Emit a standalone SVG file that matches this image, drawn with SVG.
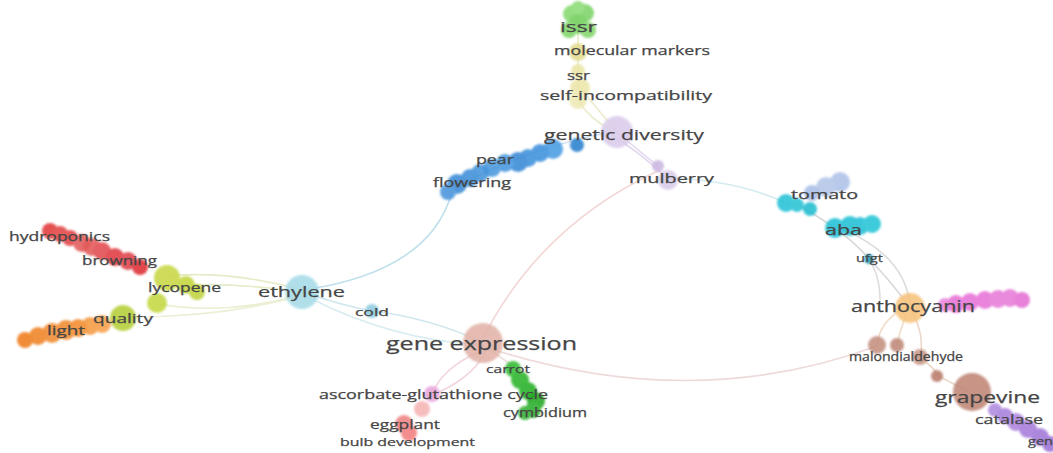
<svg xmlns="http://www.w3.org/2000/svg" width="1053" height="453" viewBox="0 0 1053 453">
<defs>
<filter id="soft" x="-20%" y="-20%" width="140%" height="140%"><feGaussianBlur stdDeviation="1.3"/></filter>
<style>
.lbl{font-family:"Open Sans","Liberation Sans",sans-serif;fill:#454545;stroke:#454545;stroke-width:0.25;}
.e{fill:none;stroke-width:1.6;stroke-linecap:round;}
.b{opacity:0.88;}
</style>
</defs>
<rect width="1053" height="453" fill="#ffffff"/>
<g id="connectors">
<path class="e" stroke="#bfe0ec" d="M303 290 Q 430 272 452 192"/>
<path class="e" stroke="#cfe8ef" d="M303 292 Q 340 305 372 311 Q 430 318 482 342"/>
<path class="e" stroke="#d9ecf1" d="M306 296 Q 390 340 482 345"/>
<path class="e" stroke="#f3d6d6" d="M482 340 Q 540 225 660 170"/>
<path class="e" stroke="#eedada" d="M482 346 Q 690 415 877 346"/>
<path class="e" stroke="#d4ebef" d="M668 178 Q 740 180 790 205"/>
<path class="e" stroke="#d8d8d8" d="M800 206 Q 850 235 868 258 Q 890 280 908 305"/>
<path class="e" stroke="#dcdcdc" d="M840 228 Q 905 255 910 305"/>
<path class="e" stroke="#dddddd" d="M868 258 Q 880 275 880 300"/>
<path class="e" stroke="#f1ddc7" d="M905 308 Q 880 320 877 345"/>
<path class="e" stroke="#f1ddc7" d="M908 310 Q 900 330 897 345"/>
<path class="e" stroke="#ecd9cc" d="M912 312 Q 925 335 920 358"/>
<path class="e" stroke="#ecd9cc" d="M920 358 Q 935 368 937 375 Q 955 385 970 392"/>
<path class="e" stroke="#e6ecc8" d="M167 276 Q 230 270 302 290"/>
<path class="e" stroke="#e6ecc8" d="M187 285 Q 240 283 302 292"/>
<path class="e" stroke="#e9eecf" d="M157 304 Q 230 316 302 294"/>
<path class="e" stroke="#ecefd6" d="M123 317 Q 220 318 300 296"/>
<path class="e" stroke="#e2d7ee" d="M617 132 Q 640 152 658 166"/>
<path class="e" stroke="#e2d7ee" d="M612 135 Q 650 160 668 180"/>
<path class="e" stroke="#ecebcd" d="M578 24 L 578 100 Q 590 120 612 130"/>
<path class="e" stroke="#ecebcd" d="M580 88 Q 600 112 617 132"/>
<path class="e" stroke="#d3e3f3" d="M448 192 Q 520 150 610 132"/>
<path class="e" stroke="#f2d6e0" d="M478 352 Q 440 370 432 395"/>
<path class="e" stroke="#f2d6e0" d="M486 352 Q 470 380 432 395"/>
<path class="e" stroke="#f0dddd" d="M490 350 Q 505 360 515 368"/>
</g>
<g id="n-issr" class="b" filter="url(#soft)"><circle cx="572" cy="14" r="9" fill="#86d970"/><circle cx="585" cy="13" r="9" fill="#7cd467"/><circle cx="578" cy="8" r="7" fill="#8adb74"/><circle cx="578" cy="24" r="10" fill="#71cf5c"/><circle cx="569" cy="30" r="8" fill="#7ed568"/><circle cx="588" cy="30" r="8" fill="#82d66c"/></g>
<g id="n-molecular-markers" class="b" filter="url(#soft)"><circle cx="578" cy="52" r="9" fill="#e3dc8e"/></g>
<g id="n-ssr" class="b" filter="url(#soft)"><circle cx="578" cy="71" r="7" fill="#ebe5a6"/></g>
<g id="n-self-incompatibility" class="b" filter="url(#soft)"><circle cx="580" cy="88" r="10" fill="#ece6a8"/><circle cx="578" cy="100" r="9" fill="#efe9b4"/></g>
<g id="n-genetic-diversity" class="b" filter="url(#soft)"><circle cx="617" cy="132" r="16" fill="#dacbeb"/></g>
<g id="n-mulberry" class="b" filter="url(#soft)"><circle cx="658" cy="166" r="6" fill="#cab7e2"/><circle cx="668" cy="180" r="10" fill="#d8cbeb"/></g>
<g id="n-pear" class="b" filter="url(#soft)"><circle cx="577" cy="145" r="7" fill="#2b80cf"/><circle cx="553" cy="149" r="10" fill="#4a9de3"/><circle cx="540" cy="153" r="9" fill="#3e91dc"/><circle cx="528" cy="158" r="9" fill="#3e91dc"/><circle cx="518" cy="162" r="10" fill="#3789d6"/><circle cx="505" cy="163" r="9" fill="#4497df"/><circle cx="492" cy="168" r="9" fill="#4898de"/></g>
<g id="n-flowering" class="b" filter="url(#soft)"><circle cx="480" cy="173" r="9" fill="#4595dc"/><circle cx="470" cy="178" r="9" fill="#3d8fd9"/><circle cx="457" cy="184" r="10" fill="#3a8ad6"/><circle cx="448" cy="192" r="8" fill="#4a95dc"/></g>
<g id="n-tomato" class="b" filter="url(#soft)"><circle cx="840" cy="182" r="10" fill="#aec2e8"/><circle cx="826" cy="187" r="10" fill="#b3c6e8"/><circle cx="812" cy="193" r="8" fill="#a9bfe6"/><circle cx="786" cy="203" r="9" fill="#27c2d6"/><circle cx="797" cy="205" r="7" fill="#2ac3d6"/><circle cx="810" cy="209" r="7" fill="#22bdd2"/></g>
<g id="n-aba" class="b" filter="url(#soft)"><circle cx="835" cy="228" r="10" fill="#23c1d6"/><circle cx="850" cy="226" r="10" fill="#20bfd4"/><circle cx="860" cy="226" r="9" fill="#20bfd4"/><circle cx="872" cy="224" r="9" fill="#28c4d8"/></g>
<g id="n-ufgt" class="b" filter="url(#soft)"><circle cx="869" cy="259" r="5" fill="#2a9fba"/></g>
<g id="n-anthocyanin" class="b" filter="url(#soft)"><circle cx="910" cy="308" r="15" fill="#f6c27a"/></g>
<g id="n-magenta" class="b" filter="url(#soft)"><circle cx="945" cy="305" r="7" fill="#ec84dc"/><circle cx="956" cy="304" r="9" fill="#e771d6"/><circle cx="970" cy="302" r="9" fill="#e872d8"/><circle cx="985" cy="300" r="9" fill="#e872d8"/><circle cx="998" cy="299" r="9" fill="#e67ad8"/><circle cx="1010" cy="298" r="9" fill="#e67ad8"/><circle cx="1022" cy="300" r="8" fill="#e46fd4"/></g>
<g id="n-malondialdehyde" class="b" filter="url(#soft)"><circle cx="877" cy="345" r="9" fill="#c49080"/><circle cx="897" cy="345" r="7" fill="#bf8878"/><circle cx="920" cy="357" r="8" fill="#c99686"/><circle cx="937" cy="376" r="6" fill="#b97c6c"/></g>
<g id="n-grapevine" class="b" filter="url(#soft)"><circle cx="972" cy="392" r="19" fill="#c08676"/></g>
<g id="n-catalase" class="b" filter="url(#soft)"><circle cx="995" cy="410" r="7" fill="#b08ae0"/><circle cx="1005" cy="416" r="8" fill="#a87fdc"/><circle cx="1016" cy="422" r="9" fill="#ad84de"/><circle cx="1028" cy="429" r="9" fill="#a67cda"/><circle cx="1040" cy="437" r="9" fill="#a078d8"/><circle cx="1050" cy="444" r="8" fill="#9d72d4"/></g>
<g id="n-gene-expression" class="b" filter="url(#soft)"><circle cx="483" cy="343" r="20" fill="#e2b2a8"/></g>
<g id="n-carrot" class="b" filter="url(#soft)"><circle cx="513" cy="369" r="8" fill="#32bb32"/><circle cx="520" cy="380" r="9" fill="#2cb52c"/><circle cx="528" cy="391" r="9" fill="#26b026"/></g>
<g id="n-cymbidium" class="b" filter="url(#soft)"><circle cx="536" cy="401" r="9" fill="#22a822"/><circle cx="533" cy="410" r="8" fill="#2aae2a"/><circle cx="525" cy="413" r="7" fill="#30b130"/></g>
<g id="n-ascorbate" class="b" filter="url(#soft)"><circle cx="432" cy="394" r="8" fill="#e8a6dc"/></g>
<g id="n-eggplant" class="b" filter="url(#soft)"><circle cx="422" cy="409" r="8" fill="#f5b4b4"/><circle cx="404" cy="424" r="9" fill="#ef8282"/><circle cx="409" cy="433" r="8" fill="#f27d7d"/></g>
<g id="n-cold" class="b" filter="url(#soft)"><circle cx="372" cy="311" r="7" fill="#8ecbe0"/></g>
<g id="n-ethylene" class="b" filter="url(#soft)"><circle cx="302" cy="292" r="17" fill="#a6dbe8"/></g>
<g id="n-lycopene" class="b" filter="url(#soft)"><circle cx="167" cy="278" r="13" fill="#c8d744"/><circle cx="186" cy="285" r="9" fill="#c3d53e"/><circle cx="197" cy="292" r="8" fill="#bfd33c"/><circle cx="157" cy="303" r="10" fill="#c4d843"/></g>
<g id="n-quality" class="b" filter="url(#soft)"><circle cx="123" cy="318" r="13" fill="#b5cf38"/></g>
<g id="n-light" class="b" filter="url(#soft)"><circle cx="102" cy="324" r="9" fill="#f7a04a"/><circle cx="90" cy="326" r="9" fill="#f59a40"/><circle cx="78" cy="328" r="9" fill="#f38c2f"/><circle cx="66" cy="330" r="10" fill="#f18a30"/><circle cx="52" cy="333" r="10" fill="#f18a30"/><circle cx="38" cy="336" r="9" fill="#f08325"/><circle cx="25" cy="340" r="8" fill="#ef7d1f"/></g>
<g id="n-hydroponics" class="b" filter="url(#soft)"><circle cx="50" cy="231" r="8" fill="#e23a3a"/><circle cx="60" cy="234" r="8" fill="#e24545"/><circle cx="70" cy="238" r="8" fill="#e24545"/><circle cx="82" cy="243" r="9" fill="#e35a5a"/></g>
<g id="n-browning" class="b" filter="url(#soft)"><circle cx="92" cy="247" r="9" fill="#e35a5a"/><circle cx="102" cy="251" r="9" fill="#e24a4f"/><circle cx="115" cy="257" r="9" fill="#df3a42"/><circle cx="128" cy="261" r="9" fill="#e0424a"/><circle cx="140" cy="267" r="8" fill="#dd2f35"/></g>
<g id="labels">
<text class="lbl" x="560" y="32" font-size="14" textLength="37" lengthAdjust="spacingAndGlyphs">issr</text>
<text class="lbl" x="554" y="55" font-size="13" textLength="156" lengthAdjust="spacingAndGlyphs">molecular markers</text>
<text class="lbl" x="567" y="80" font-size="12" textLength="23" lengthAdjust="spacingAndGlyphs">ssr</text>
<text class="lbl" x="540" y="100" font-size="13" textLength="172" lengthAdjust="spacingAndGlyphs">self-incompatibility</text>
<text class="lbl" x="544" y="140" font-size="15" textLength="160" lengthAdjust="spacingAndGlyphs">genetic diversity</text>
<text class="lbl" x="476" y="164" font-size="13" textLength="38" lengthAdjust="spacingAndGlyphs">pear</text>
<text class="lbl" x="433" y="187" font-size="13" textLength="78" lengthAdjust="spacingAndGlyphs">flowering</text>
<text class="lbl" x="629" y="183" font-size="13" textLength="85" lengthAdjust="spacingAndGlyphs">mulberry</text>
<text class="lbl" x="791" y="199" font-size="13" textLength="67" lengthAdjust="spacingAndGlyphs">tomato</text>
<text class="lbl" x="825" y="235" font-size="14" textLength="37" lengthAdjust="spacingAndGlyphs">aba</text>
<text class="lbl" x="856" y="262" font-size="11" textLength="27" lengthAdjust="spacingAndGlyphs">ufgt</text>
<text class="lbl" x="851" y="312" font-size="16" textLength="124" lengthAdjust="spacingAndGlyphs">anthocyanin</text>
<text class="lbl" x="849" y="361" font-size="12" textLength="114" lengthAdjust="spacingAndGlyphs">malondialdehyde</text>
<text class="lbl" x="935" y="403" font-size="16" textLength="105" lengthAdjust="spacingAndGlyphs">grapevine</text>
<text class="lbl" x="975" y="424" font-size="12" textLength="68" lengthAdjust="spacingAndGlyphs">catalase</text>
<text class="lbl" x="1028" y="445" font-size="11" textLength="25" lengthAdjust="spacingAndGlyphs">gen</text>
<text class="lbl" x="386" y="350" font-size="18" textLength="191" lengthAdjust="spacingAndGlyphs">gene expression</text>
<text class="lbl" x="486" y="373" font-size="11" textLength="44" lengthAdjust="spacingAndGlyphs">carrot</text>
<text class="lbl" x="319" y="399" font-size="12" textLength="229" lengthAdjust="spacingAndGlyphs">ascorbate-glutathione cycle</text>
<text class="lbl" x="503" y="417" font-size="12" textLength="84" lengthAdjust="spacingAndGlyphs">cymbidium</text>
<text class="lbl" x="370" y="429" font-size="13" textLength="70" lengthAdjust="spacingAndGlyphs">eggplant</text>
<text class="lbl" x="340" y="446" font-size="11" textLength="135" lengthAdjust="spacingAndGlyphs">bulb development</text>
<text class="lbl" x="355" y="316" font-size="11" textLength="34" lengthAdjust="spacingAndGlyphs">cold</text>
<text class="lbl" x="258" y="297" font-size="15" textLength="87" lengthAdjust="spacingAndGlyphs">ethylene</text>
<text class="lbl" x="148" y="292" font-size="12" textLength="73" lengthAdjust="spacingAndGlyphs">lycopene</text>
<text class="lbl" x="93" y="323" font-size="13" textLength="60" lengthAdjust="spacingAndGlyphs">quality</text>
<text class="lbl" x="47" y="335" font-size="13" textLength="38" lengthAdjust="spacingAndGlyphs">light</text>
<text class="lbl" x="9" y="241" font-size="12" textLength="101" lengthAdjust="spacingAndGlyphs">hydroponics</text>
<text class="lbl" x="82" y="265" font-size="12" textLength="75" lengthAdjust="spacingAndGlyphs">browning</text>
</g>
</svg>
